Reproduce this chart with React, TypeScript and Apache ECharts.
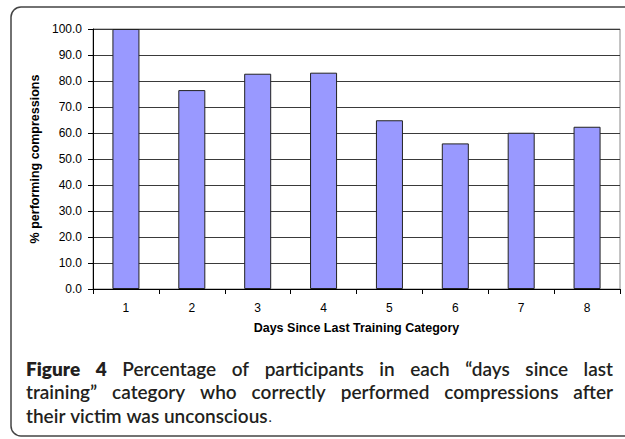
import React, { useEffect, useRef } from "react";
import * as echarts from "echarts";

const categories = ["1", "2", "3", "4", "5", "6", "7", "8"];
const percentPerforming = [100, 76.5, 82.8, 83.2, 64.9, 56.0, 60.1, 62.4];
const yAxisTitle = "% performing compressions";
const xAxisTitle = "Days Since Last Training Category";
const captionLines = [
  "Percentage of participants in each \u201cdays since last",
  "training\u201d category who correctly performed compressions after",
  "their victim was unconscious",
];

const W = 625;
const H = 439;
const CAP_FONT = 'Lato, "Open Sans", sans-serif';
const CAP_SIZE = 19;
const CAP_BOLD_SIZE = 19;
const CAP_COLOR = "#231f20";

function measure(text: string, weight: string | number, size: number): number {
  const c = document.createElement("canvas").getContext("2d");
  if (!c) return text.length * 9;
  c.font = `${weight} ${size}px ${CAP_FONT}`;
  return c.measureText(text).width;
}

type Word = { text: string; weight: number; size: number };

function buildCaption(): any[] {
  const left = 26;
  const right = 613;
  const ys = [368, 391.5, 415];
  const els: any[] = [];
  const norm = (t: string): Word => ({ text: t, weight: 600, size: CAP_SIZE });
  const lines: Word[][] = [
    [
      { text: "Figure", weight: 800, size: CAP_BOLD_SIZE },
      { text: "4", weight: 800, size: CAP_BOLD_SIZE },
      ...captionLines[0].split(" ").map(norm),
    ],
    captionLines[1].split(" ").map(norm),
    captionLines[2].split(" ").map(norm),
  ];
  lines.forEach((words, li) => {
    const widths = words.map((w) => measure(w.text, w.weight, w.size));
    const total = widths.reduce((a, b) => a + b, 0);
    const justify = li < 2;
    const gap = justify
      ? (right - left - total) / (words.length - 1)
      : measure(" ", 600, CAP_SIZE);
    let x = left;
    words.forEach((w, i) => {
      els.push({
        type: "text",
        x,
        y: ys[li],
        silent: true,
        style: {
          text: w.text,
          fontFamily: CAP_FONT,
          fontSize: w.size,
          fontWeight: w.weight,
          lineHeight: 20,
          fill: CAP_COLOR,
          verticalAlign: "middle",
          align: "left",
        },
      });
      x += widths[i] + gap;
    });
    if (li === 2) {
      els.push({
        type: "text",
        x: x - gap + 1,
        y: ys[li] + 1,
        silent: true,
        style: {
          text: ".",
          fontFamily: CAP_FONT,
          fontSize: CAP_SIZE - 5,
          fontWeight: 400,
          lineHeight: 16,
          fill: CAP_COLOR,
          verticalAlign: "middle",
          align: "left",
        },
      });
    }
  });
  return els;
}

export default function App() {
  const ref = useRef<HTMLDivElement>(null);
  useEffect(() => {
    if (!ref.current) return;
    const chart = echarts.init(ref.current, undefined, { renderer: "svg" });
    const axisFont = '"Liberation Sans", Arial, sans-serif';
    chart.setOption({
      animation: false,
      backgroundColor: "#ffffff",
      grid: {
        left: 93,
        right: 5,
        top: 29,
        bottom: 150,
        show: true,
        borderColor: "#888888",
        borderWidth: 1,
        backgroundColor: "transparent",
      },
      xAxis: {
        type: "category",
        data: categories,
        boundaryGap: true,
        axisLine: { lineStyle: { color: "#000", width: 1 } },
        axisTick: { show: true, length: 5, interval: 0, lineStyle: { color: "#000" } },
        axisLabel: { color: "#000", fontSize: 12, fontFamily: axisFont, margin: 13 },
        name: xAxisTitle,
        nameLocation: "middle",
        nameGap: 32,
        nameTextStyle: { color: "#000", fontSize: 12.5, fontWeight: "bold", fontFamily: axisFont },
        splitLine: { show: false },
      },
      yAxis: {
        type: "value",
        min: 0,
        max: 100,
        interval: 10,
        axisLine: { show: true, lineStyle: { color: "#000", width: 1 } },
        axisTick: { show: true, length: 5, lineStyle: { color: "#000" } },
        axisLabel: {
          color: "#000",
          fontSize: 12,
          fontFamily: axisFont,
          margin: 11,
          formatter: (v: number) => v.toFixed(1),
        },
        splitLine: { show: true, lineStyle: { color: "#3a3a3a", width: 1 } },
        name: yAxisTitle,
        nameLocation: "middle",
        nameGap: 52,
        nameRotate: 90,
        nameTextStyle: { color: "#000", fontSize: 12.5, fontWeight: "bold", fontFamily: axisFont },
      },
      series: [
        {
          type: "bar",
          data: percentPerforming,
          barWidth: "41%",
          itemStyle: { color: "#9999ff", borderColor: "#222222", borderWidth: 1 },
          silent: true,
        },
      ],
      graphic: [
        {
          type: "rect",
          silent: true,
          z: -1,
          shape: { x: 11, y: 7, width: 640, height: 429, r: 10 },
          style: { fill: "none", stroke: "#444444", lineWidth: 1.5 },
        },
        ...buildCaption(),
      ],
    });
    return () => chart.dispose();
  }, []);
  return (
    <div
      ref={ref}
      style={{ position: "fixed", left: 0, top: 0, width: W, height: H }}
    />
  );
}
